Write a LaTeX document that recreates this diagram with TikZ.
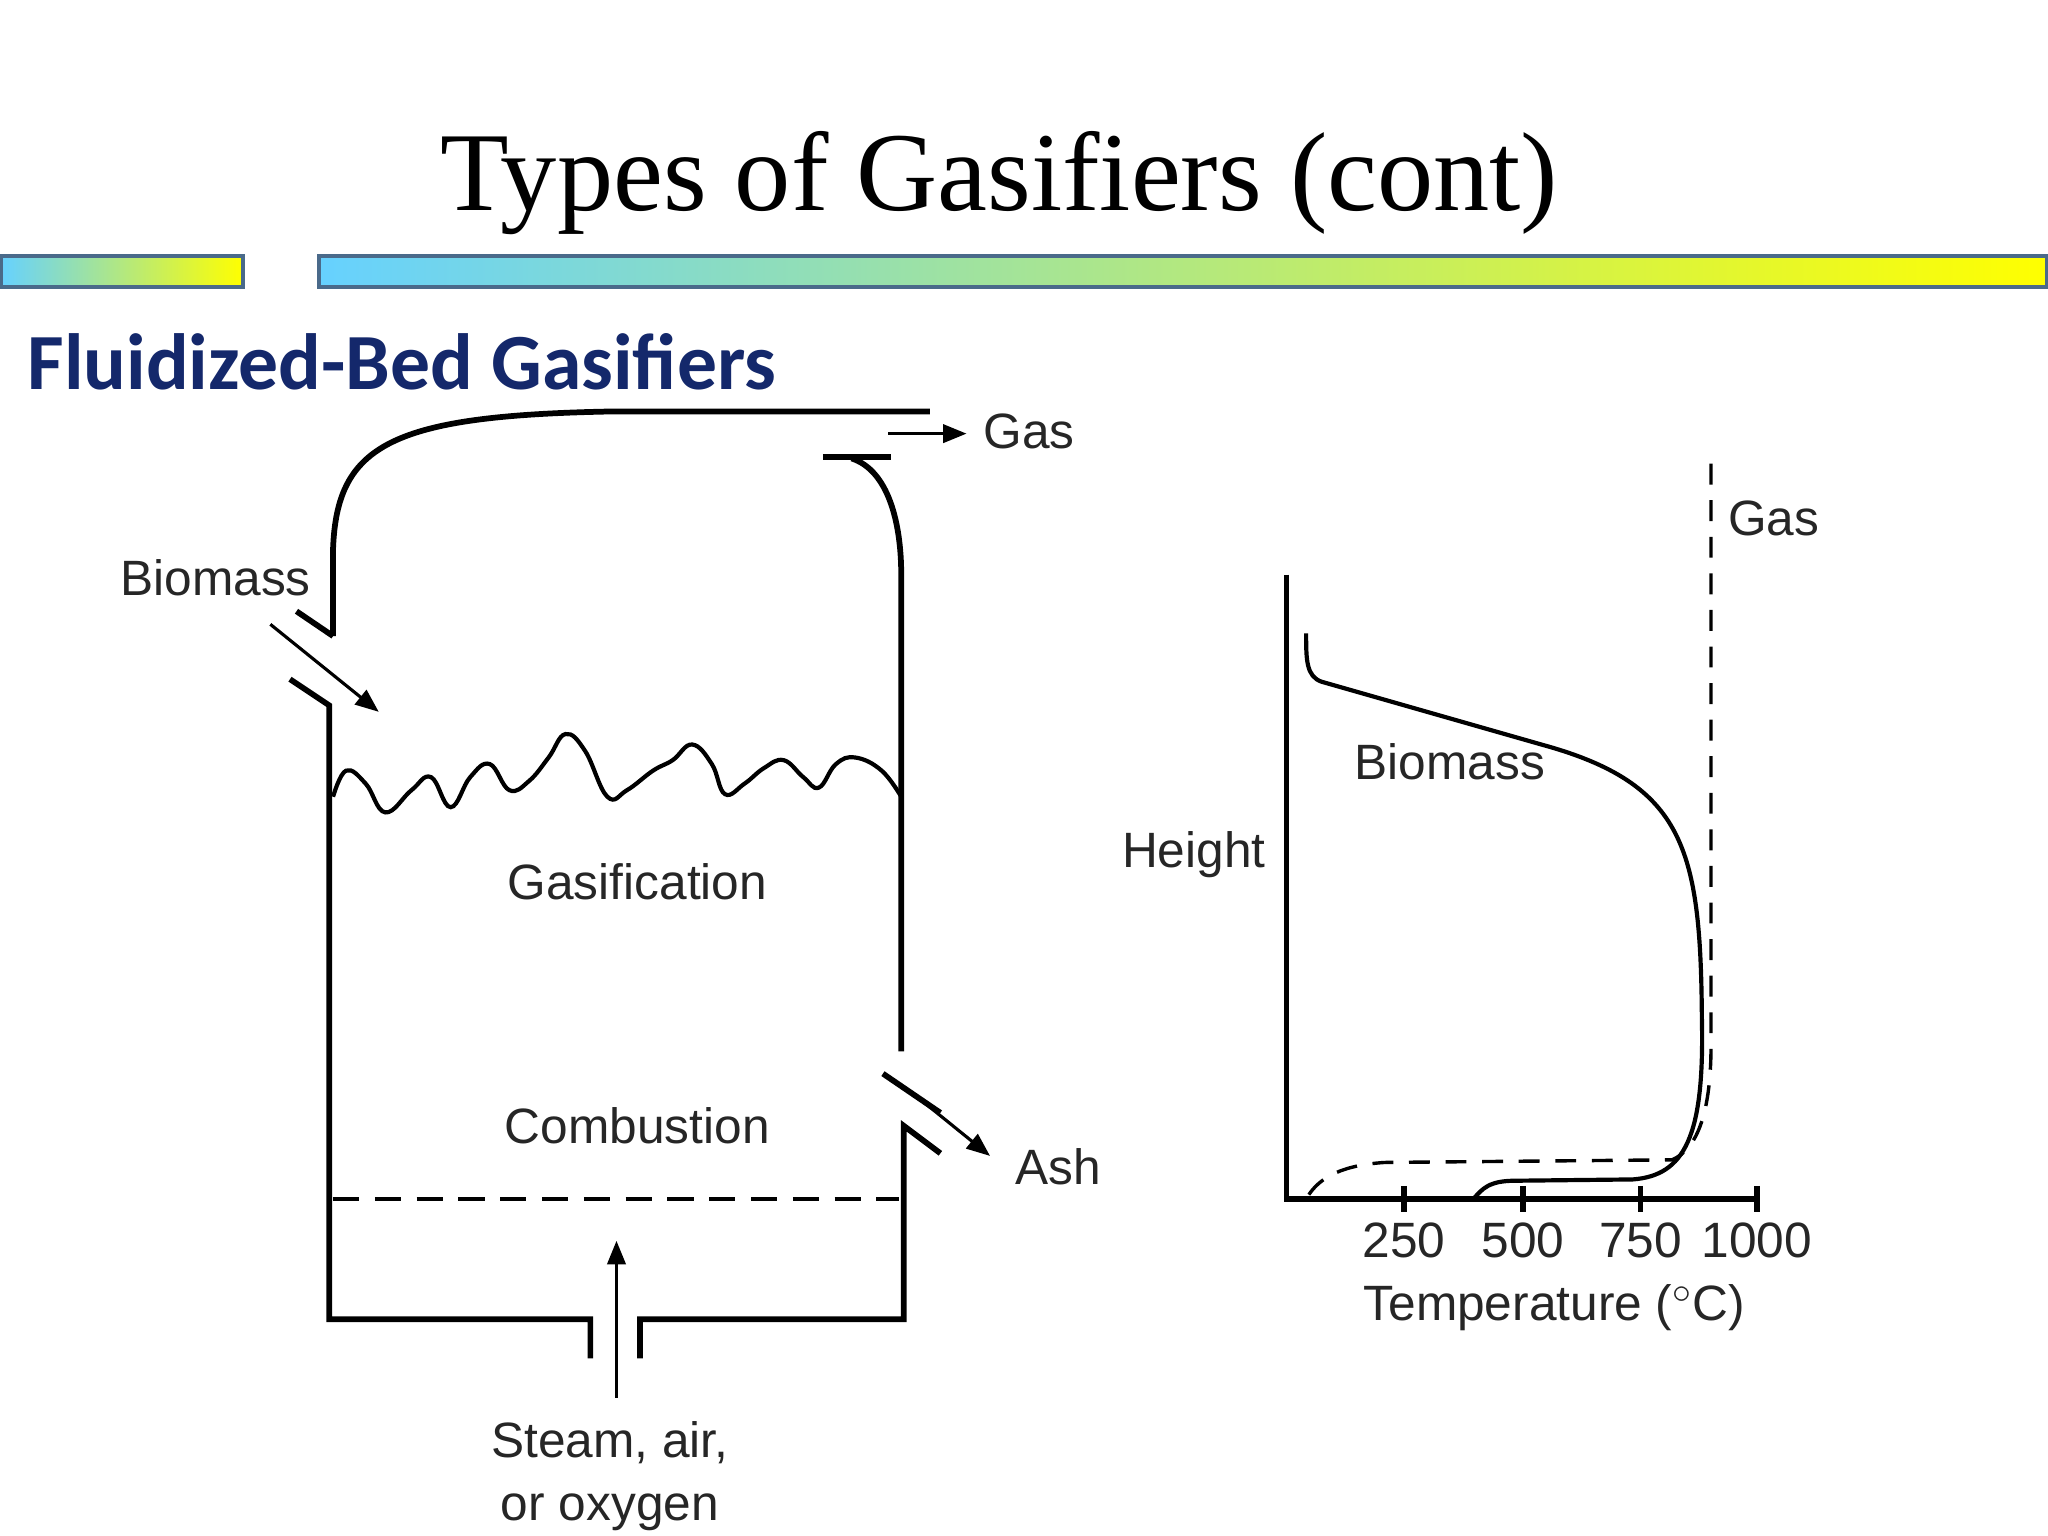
\documentclass[tikz,border=0pt]{standalone}
\usepackage{fontspec}
\setmainfont{Liberation Sans}
\newfontfamily\titlefont{Liberation Serif}
\newfontfamily\headfont{Carlito}
\usetikzlibrary{arrows.meta}
\definecolor{navy}{HTML}{14286B}
\definecolor{barborder}{HTML}{4A6A8A}
\begin{document}
\begin{tikzpicture}[x=0.5pt,y=-0.5pt,
  wall/.style={line width=2.2pt},
  thin/.style={line width=1.3pt},
  arr/.style={line width=1.2pt,-{Triangle[length=9pt,width=7pt]}},
  lbl/.style={font=\fontsize{19}{22}\selectfont,text=black!85},
  bar/.style={left color=cyan!70!blue!60, right color=yellow, draw=barborder, line width=1.5pt}]
\useasboundingbox (0,0) rectangle (1568,1176);
\node[font=\titlefont\fontsize{43}{50}\selectfont] (title) at (765,140) {Types of Gasifiers (cont)};
\fill[bar] (1,196) rectangle (186,220);
\fill[bar] (244,196) rectangle (1567,220);
\node[font=\headfont\bfseries\fontsize{30.5}{34}\selectfont,text=navy,anchor=base west] (head) at (14,298) {Fluidized-Bed Gasifiers};
% vessel
\draw[wall] (255,487) -- (255,420) .. controls (258,340) and (300,318) .. (470,315) -- (712,315);
\draw[wall] (630,350) -- (682,350);
\draw[wall] (652,351) .. controls (680,360) and (690,400) .. (690,440) -- (690,805);
\draw[wall] (676,822) -- (720,852);
\draw[wall] (720,883) -- (692,862) -- (692,1010) -- (490,1010) -- (490,1040);
\draw[wall] (222,520) -- (252,540) -- (252,1010) -- (452,1010) -- (452,1040);
\draw[wall] (255,487) -- (227,468);
\draw[wall,dashed,dash pattern=on 10pt off 6pt,line width=1.6pt] (255,918) -- (688,918);
\draw[wall,line width=1.6pt] plot[smooth,tension=0.7] coordinates{(255,610)(265,590)(280,600)(295,622)(315,605)(330,595)(345,618)(360,595)(375,585)(390,605)(405,598)(420,580)(433,562)(448,575)(465,610)(480,605)(500,590)(515,582)(530,570)(545,585)(555,608)(570,600)(585,588)(600,582)(615,595)(627,603)(640,585)(655,580)(675,590)(690,610)};
\coordinate (bs) at (207,478); \coordinate (be) at (290,545);
\draw[arr] (bs) -- (be);
\coordinate (gs) at (680,332); \coordinate (ge) at (740,332);
\draw[arr] (gs) -- (ge);
\coordinate (as) at (700,838); \coordinate (ae) at (758,885);
\draw[arr] (as) -- (ae);
\coordinate (ss) at (472,1070); \coordinate (se) at (472,950);
\draw[arr] (ss) -- (se);
\node[lbl] (lgas) at (788,330) {Gas};
\node[lbl] (lbio) at (165,442) {Biomass};
\node[lbl] (lash) at (810,893) {Ash};
\node[lbl] (lgasif) at (488,675) {Gasification};
\node[lbl] (lcomb) at (488,862) {Combustion};
\node[lbl,align=center] (lsteam) at (467,1130) {Steam, air,\\[2pt]or oxygen};
% graph
\draw[wall] (985,440) -- (985,918) -- (1347,918);
\foreach \x/\t in {1075/250,1166/500,1256/750,1345/1000}{
  \draw[wall] (\x,908) -- (\x,928);
  \node[lbl] at (\x,950) {\t};}
\node[lbl] (ltemp) at (1190,1001) {Temperature ($^\circ$C)};
\node[lbl] (lheight) at (914,654) {Height};
\node[lbl] (lgas2) at (1358,397) {Gas};
\node[lbl] (lbio2) at (1110,583) {Biomass};
\draw[thin,dashed,dash pattern=on 8pt off 6pt] (1310,355) -- (1310,800) .. controls (1310,850) and (1300,880) .. (1280,888) -- (1060,890) .. controls (1030,892) and (1010,900) .. (1000,918);
\draw[thin,line width=1.6pt] (1000,485) .. controls (1000,505) and (1000,518) .. (1012,522) -- (1180,570) .. controls (1290,600) and (1302,650) .. (1303,780) .. controls (1305,870) and (1290,900) .. (1250,903) -- (1160,904) .. controls (1140,904) and (1135,910) .. (1128,918);
\end{tikzpicture}
\end{document}
